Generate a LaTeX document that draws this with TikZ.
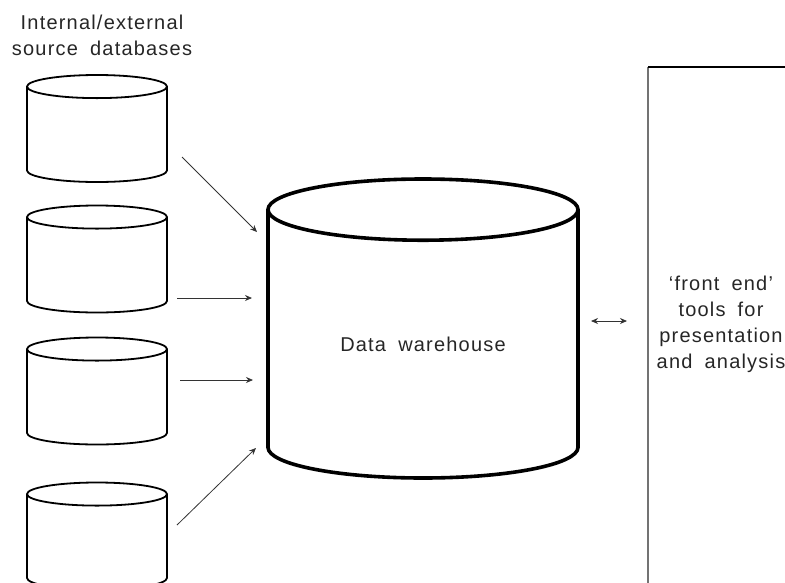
\documentclass[tikz,border=0pt]{standalone}
\usepackage{fontspec}
\setmainfont{Liberation Sans}[LetterSpace=6,WordSpace=1.8]
\usetikzlibrary{shapes.geometric,arrows.meta,positioning}

\begin{document}
\begin{tikzpicture}[
    x=1pt, y=-1pt,
    every node/.style={font=\fontsize{20}{26}\selectfont, text=black!85},
    source/.style={cylinder, shape border rotate=90, draw, line width=1.8pt, minimum width=140pt, minimum height=107pt, aspect=0.33, inner ysep=0pt, inner xsep=35pt, anchor=shape center},
    store/.style={cylinder, shape border rotate=90, draw, line width=3.6pt, minimum width=310pt, minimum height=299pt, aspect=0.37, inner sep=0pt, anchor=shape center},
    arrow/.style={line width=0.8pt, draw=black!80, ->, >={Stealth[length=7pt,width=6pt]}},
    frame/.style={line width=1.2pt}
]

\clip (0,0) rectangle (785,582);

% Source databases
\node[align=center] (srclabel) at (102,35) {Internal/external\\source databases};
\node[source] (src1) at (97,128.5) {};
\node[source] (src2) at (97,259) {};
\node[source] (src3) at (97,391) {};
\node[source] (src4) at (97,536) {};

% Warehouse
\node[store] (dw) at (423,328.5) {Data warehouse};

% Front end panel
\coordinate (panel) at (648,67);
\coordinate (panelside) at (648,321);
\draw[frame, draw=black!55] (panel) -- ++(0,540);
\draw[frame] (panel) -- ++(150,0);
\node[align=center] (tools) at (721,324) {‘front end’\\tools for\\presentation\\and analysis};

% Arrows into the warehouse
\draw[arrow] ([xshift=85pt,yshift=-28.5pt]src1.shape center) -- ([xshift=-166pt,yshift=96.5pt]dw.shape center);
\draw[arrow] ([xshift=80pt,yshift=-39pt]src2.shape center) -- ([xshift=-171pt,yshift=30.5pt]dw.shape center);
\draw[arrow] ([xshift=83pt,yshift=11pt]src3.shape center) -- ([xshift=-170pt,yshift=-51.5pt]dw.shape center);
\draw[arrow] ([xshift=80pt,yshift=11pt]src4.shape center) -- ([xshift=-167pt,yshift=-119.5pt]dw.shape center);

% Warehouse to tools
\draw[arrow,<->] ([xshift=168pt,yshift=7.5pt]dw.shape center) -- ([xshift=-21pt]panelside);

\end{tikzpicture}
\end{document}
